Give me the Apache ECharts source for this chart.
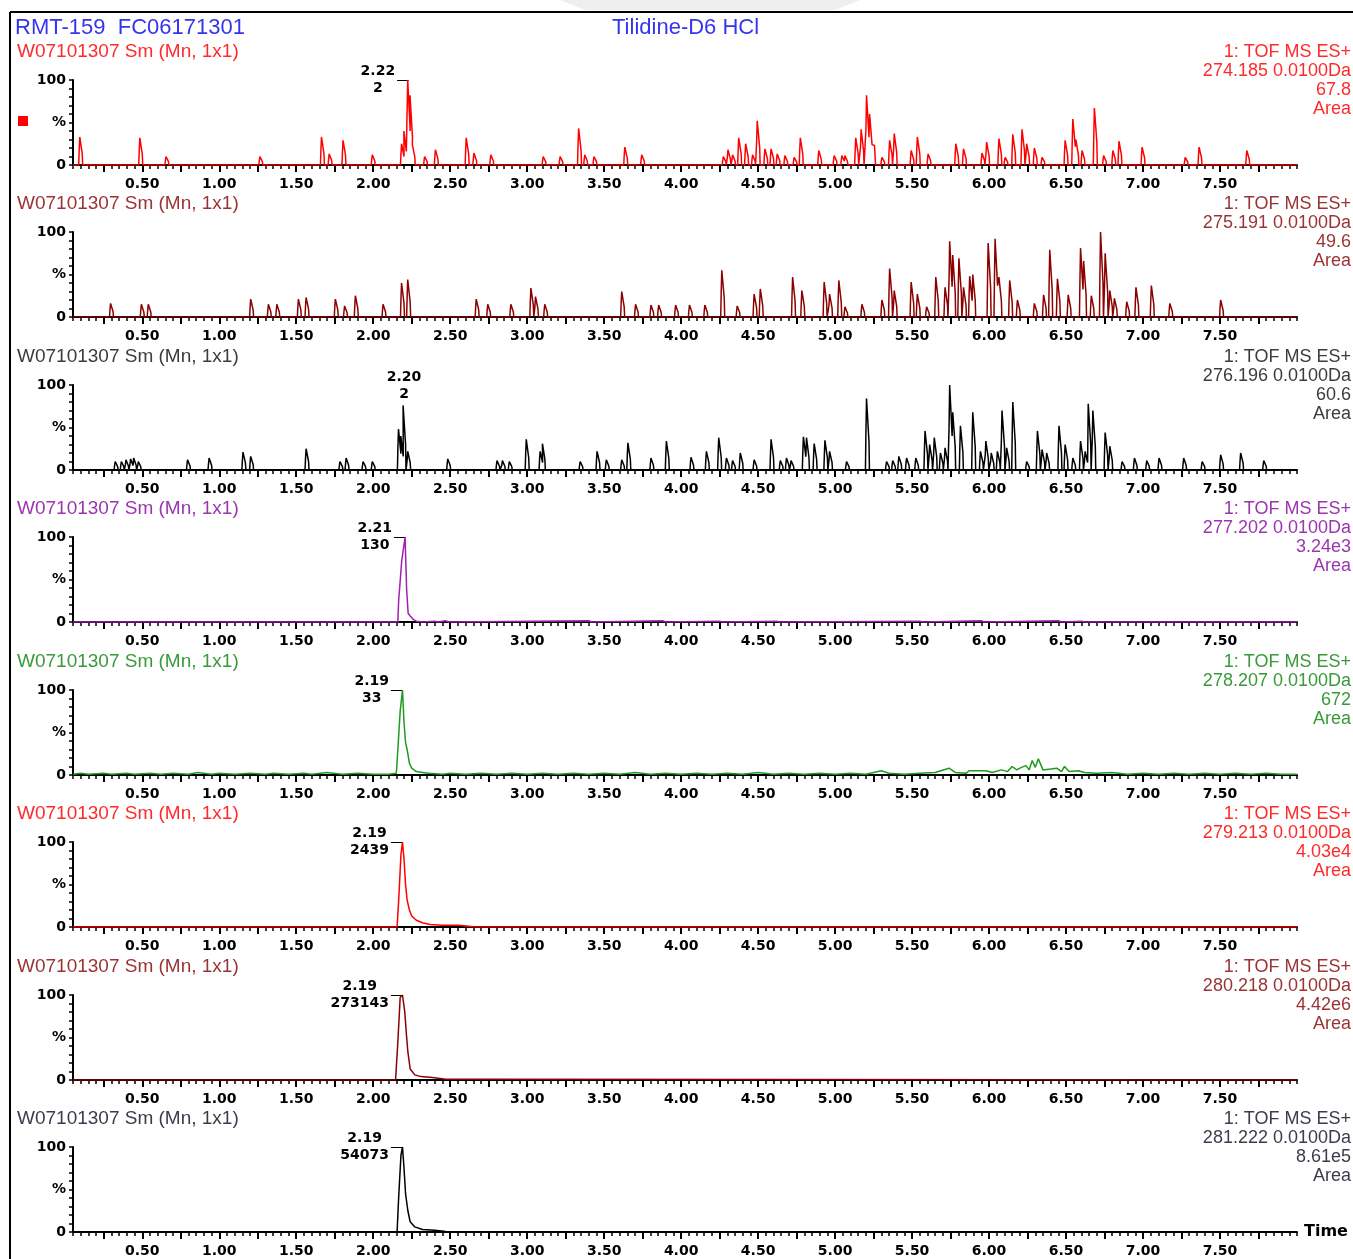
<!DOCTYPE html>
<html><head><meta charset="utf-8">
<script src="https://cdn.jsdelivr.net/npm/echarts@6/dist/echarts.min.js"></script>
<style>html,body{margin:0;padding:0;background:#fff}#c{width:1353px;height:1259px}</style>
</head><body><div id="c"></div>
<script>
// ---------- DATA ----------
const X_MIN = 0.05, X_MAX = 8.0;
const xTickLabels = [0.5,1.0,1.5,2.0,2.5,3.0,3.5,4.0,4.5,5.0,5.5,6.0,6.5,7.0,7.5];
const headerLeft = 'RMT-159  FC06171301';
const headerCenter = 'Tilidine-D6 HCl';
const panelTitles = ['W07101307 Sm (Mn, 1x1)','W07101307 Sm (Mn, 1x1)','W07101307 Sm (Mn, 1x1)','W07101307 Sm (Mn, 1x1)','W07101307 Sm (Mn, 1x1)','W07101307 Sm (Mn, 1x1)','W07101307 Sm (Mn, 1x1)','W07101307 Sm (Mn, 1x1)'];
const scanLines = ['1: TOF MS ES+','1: TOF MS ES+','1: TOF MS ES+','1: TOF MS ES+','1: TOF MS ES+','1: TOF MS ES+','1: TOF MS ES+','1: TOF MS ES+'];
const massLines = ['274.185 0.0100Da','275.191 0.0100Da','276.196 0.0100Da','277.202 0.0100Da','278.207 0.0100Da','279.213 0.0100Da','280.218 0.0100Da','281.222 0.0100Da'];
const maxIntensity = ['67.8','49.6','60.6','3.24e3','672','4.03e4','4.42e6','8.61e5'];
const areaLabels = ['Area','Area','Area','Area','Area','Area','Area','Area'];
// peak annotations
const annotPanels = [0,2,3,4,5,6,7];
const annotTimes  = [2.23,2.20,2.21,2.19,2.19,2.19,2.19];
const annotValues = [100,76,100,100,100,100,100];
const annotRT     = ['2.22','2.20','2.21','2.19','2.19','2.19','2.19'];
const annotArea   = ['2','2','130','33','2439','273143','54073'];

// noisy traces as peak lists [time, % height]
const peaks1 = [[0.10,33],[0.49,32],[0.66,10],[1.27,10],[1.67,33],[1.72,13],[1.81,29],[2.00,12],[2.19,25],[2.205,40],[2.23,100],[2.245,82],[2.26,24],[2.34,10],[2.41,18],[2.61,32],[2.66,14],[2.77,12],[3.11,10],[3.22,10],[3.34,43],[3.38,12],[3.44,10],[3.64,21],[3.75,12],[4.28,10],[4.31,18],[4.34,12],[4.38,32],[4.425,25],[4.47,12],[4.50,52],[4.55,19],[4.59,19],[4.63,13],[4.68,11],[4.74,9],[4.78,32],[4.90,17],[5.00,11],[5.05,11],[5.07,11],[5.14,32],[5.175,42],[5.21,82],[5.23,60],[5.25,23],[5.31,9],[5.36,29],[5.39,37],[5.50,17],[5.54,33],[5.61,13],[5.79,25],[5.84,19],[5.96,14],[5.99,27],[6.07,31],[6.11,9],[6.16,36],[6.22,42],[6.25,25],[6.30,20],[6.35,9],[6.50,29],[6.55,54],[6.57,30],[6.61,17],[6.69,67],[6.75,11],[6.81,17],[6.85,28],[7.00,21],[7.28,9],[7.37,21],[7.68,17]];
const peaks2 = [[0.30,16],[0.50,15],[0.545,15],[1.21,21],[1.325,15],[1.38,15],[1.52,21],[1.57,23],[1.76,21],[1.82,13],[1.89,25],[2.07,15],[2.19,40],[2.23,44],[2.675,21],[2.75,15],[2.90,15],[3.03,34],[3.06,24],[3.12,15],[3.62,30],[3.71,15],[3.81,14],[3.86,14],[3.97,14],[4.06,14],[4.16,14],[4.27,55],[4.37,13],[4.48,27],[4.52,33],[4.73,47],[4.79,31],[4.935,41],[4.97,27],[5.03,43],[5.07,12],[5.18,15],[5.31,20],[5.36,57],[5.39,31],[5.50,41],[5.54,27],[5.60,12],[5.66,47],[5.72,35],[5.75,89],[5.77,73],[5.81,69],[5.84,35],[5.88,48],[5.90,50],[6.00,87],[6.045,92],[6.07,47],[6.14,43],[6.19,20],[6.30,16],[6.36,26],[6.40,79],[6.45,45],[6.52,26],[6.60,81],[6.62,66],[6.67,25],[6.73,100],[6.76,75],[6.79,31],[6.82,22],[6.90,18],[6.96,35],[7.06,37],[7.18,16],[7.51,20]];
const peaks3 = [[0.33,10],[0.37,10],[0.40,12],[0.43,13],[0.45,14],[0.48,10],[0.80,12],[0.94,14],[1.16,21],[1.21,16],[1.57,25],[1.79,10],[1.83,14],[1.94,10],[2.00,10],[2.17,48],[2.185,40],[2.20,76],[2.23,22],[2.49,13],[2.81,11],[2.845,11],[2.89,10],[3.00,36],[3.09,22],[3.105,31],[3.35,10],[3.46,22],[3.52,12],[3.62,12],[3.66,32],[3.81,14],[3.91,34],[4.07,15],[4.17,22],[4.25,38],[4.30,14],[4.34,11],[4.39,20],[4.48,12],[4.59,36],[4.65,11],[4.69,14],[4.72,11],[4.80,39],[4.82,38],[4.87,31],[4.94,35],[4.97,22],[5.08,10],[5.21,84],[5.34,10],[5.38,11],[5.42,16],[5.47,14],[5.53,14],[5.59,46],[5.62,30],[5.65,38],[5.69,20],[5.72,26],[5.75,100],[5.77,68],[5.82,52],[5.90,68],[5.95,22],[5.985,34],[6.02,20],[6.06,22],[6.09,70],[6.12,26],[6.16,80],[6.25,10],[6.32,46],[6.35,24],[6.38,20],[6.46,52],[6.50,30],[6.55,14],[6.60,34],[6.63,22],[6.65,78],[6.68,70],[6.76,44],[6.79,28],[6.87,10],[6.95,14],[7.03,11],[7.11,14],[7.27,14],[7.39,10],[7.51,18],[7.64,20],[7.79,11]];

// single-peak traces [time, % height]
const trace4 = [[0.05,0],[2.16,0],[2.165,25],[2.175,48],[2.185,72],[2.195,74],[2.207,100],[2.217,38],[2.227,10],[2.24,7],[2.26,3],[2.28,1],[2.32,0],[2.40,1],[2.42,0],[2.47,1.5],[2.49,0],[3.40,1.5],[3.42,0],[3.88,1.5],[3.90,0],[4.25,1],[4.27,0],[4.62,1],[4.64,0],[5.55,1],[5.57,0],[5.95,1.5],[5.97,0],[6.45,1.5],[6.47,0],[6.60,1],[6.62,0],[8.0,0]];
const trace5 = [[0.05,1],[0.10,2],[0.15,1],[0.25,2],[0.30,1],[0.40,2],[0.45,1],[0.55,2],[0.62,1],[0.70,2],[0.80,1],[0.86,3],[0.95,1],[1.00,2],[1.10,1],[1.20,2],[1.30,1],[1.35,2],[1.45,1],[1.55,2],[1.60,1],[1.70,3],[1.80,1],[1.90,2],[2.00,1],[2.10,1],[2.15,2],[2.16,30],[2.175,75],[2.19,100],[2.20,62],[2.21,38],[2.22,30],[2.235,14],[2.25,8],[2.28,4],[2.32,3],[2.36,2],[2.45,1],[2.50,2],[2.60,1],[2.70,2],[2.80,1],[2.90,2],[3.00,1],[3.10,2],[3.20,1],[3.30,2],[3.40,1],[3.50,2],[3.60,1],[3.70,3],[3.80,1],[3.90,2],[4.00,1],[4.10,2],[4.20,1],[4.30,2],[4.40,1],[4.50,3],[4.60,1],[4.70,2],[4.80,1],[4.90,2],[5.00,1],[5.10,2],[5.20,1],[5.30,5],[5.35,2],[5.45,1],[5.55,2],[5.65,3],[5.74,8],[5.78,3],[5.85,2],[5.87,5],[5.98,5],[6.02,3],[6.08,6],[6.12,4],[6.15,10],[6.18,6],[6.21,9],[6.24,11],[6.26,6],[6.28,17],[6.30,9],[6.32,19],[6.35,6],[6.40,7],[6.44,8],[6.47,4],[6.49,10],[6.52,4],[6.58,5],[6.62,3],[6.70,2],[6.80,3],[6.90,1],[7.00,2],[7.10,1],[7.20,2],[7.30,1],[7.40,2],[7.50,1],[7.60,2],[7.70,1],[7.80,2],[7.90,1],[8.00,1]];
const trace6 = [[0.05,0],[2.155,0],[2.165,30],[2.18,85],[2.19,100],[2.20,80],[2.21,50],[2.22,32],[2.235,20],[2.25,13],[2.28,8],[2.32,5],[2.37,3],[2.45,2],[2.55,2],[2.62,1],[2.66,0],[8.0,0]];
const trace7 = [[0.05,0],[2.145,0],[2.16,45],[2.175,97],[2.19,100],[2.205,80],[2.215,55],[2.225,33],[2.24,13],[2.27,6],[2.31,4],[2.385,3],[2.47,1],[2.71,1],[2.72,0],[8.0,0]];
const trace8 = [[0.05,0],[2.155,0],[2.165,40],[2.18,90],[2.19,100],[2.20,75],[2.21,45],[2.225,25],[2.24,12],[2.27,6],[2.32,3],[2.40,2],[2.46,1],[2.48,0],[8.0,0]];

// ---------- STYLE ----------
const lineColors  = ['#ff0000','#8b0000','#000000','#a020b0','#1f9a1f','#ff0000','#8b0000','#000000'];
const titleColors = ['#ff2a2a','#9a3434','#3c3c3c','#9b35b0','#3a9a3a','#ff2a2a','#9a3434','#3c3c4c'];
const TOPS = [80,232,385,537,690,842,995,1147];
const GRID_LEFT = 73, GRID_W = 1224, GRID_H = 85;

// turn a peak list into a boxy chromatogram trace (rendering shape only)
function spikes(peaks){
  const p = peaks.slice().sort((a,b)=>a[0]-b[0]);
  const out = [[X_MIN,0]];
  let lastEnd = -1;
  p.forEach(([t,h])=>{
    const l = t-0.013, r = t+0.013;
    if (l > lastEnd) out.push([l,0],[l+0.003,h*0.5]); else out.pop();
    out.push([t-0.006,h],[t+0.006,h],[r-0.003,h*0.4],[r,0]);
    lastEnd = r;
  });
  out.push([X_MAX,0]);
  return out;
}
const traces = [spikes(peaks1), spikes(peaks2), spikes(peaks3), trace4, trace5, trace6, trace7, trace8];

const majorTicks = [], minorTicks = [];
for (let k = 1; k * 0.25 < X_MAX; k++) majorTicks.push(+(k*0.25).toFixed(2));
for (let k = 1; k * 0.05 <= X_MAX + 1e-9; k++) minorTicks.push(+(k*0.05).toFixed(2));

const numFont = 'DejaVu Sans';
const grids = [], xAxes = [], yAxes = [], series = [], graphics = [];
TOPS.forEach((top,i)=>{
  grids.push({left:GRID_LEFT, top:top, width:GRID_W, height:GRID_H});
  xAxes.push({gridIndex:i, type:'value', min:X_MIN, max:X_MAX, position:'bottom',
    axisLine:{show:true, onZero:false, lineStyle:{color:'#000', width:2}},
    axisTick:{show:true, customValues:majorTicks, length:7, lineStyle:{color:'#000', width:2}},
    axisLabel:{show:true, customValues:xTickLabels, formatter:v=>v.toFixed(2), color:'#000', fontFamily:numFont, fontWeight:'bold', fontSize:14, margin:12},
    splitLine:{show:false}});
  xAxes.push({gridIndex:i, type:'value', min:X_MIN, max:X_MAX, position:'bottom',
    axisLine:{show:false, onZero:false},
    axisTick:{show:true, customValues:minorTicks, length:4, lineStyle:{color:'#000', width:1.5}},
    axisLabel:{show:false}, splitLine:{show:false}});
  yAxes.push({gridIndex:i, type:'value', min:0, max:100, interval:10,
    axisLine:{show:true, lineStyle:{color:'#000', width:2}},
    axisTick:{show:true, length:4, lineStyle:{color:'#000', width:1.5}},
    axisLabel:{show:true, margin:7, color:'#000', fontFamily:numFont, fontWeight:'bold', fontSize:14,
      formatter:v=> v===100?'100':(v===50?'%':(v===0?'0':''))},
    splitLine:{show:false}});
  const s = {type:'line', xAxisIndex:2*i, yAxisIndex:i, data:traces[i], showSymbol:false, symbol:'none',
    lineStyle:{color:lineColors[i], width:1.5}, z:5, animation:false};
  const ai = annotPanels.indexOf(i);
  if (ai >= 0){
    const above = (i === 2);
    s.markPoint = {symbol:'circle', symbolSize:1, itemStyle:{color:'rgba(0,0,0,0)'}, animation:false,
      label:{show:true, position: above ? 'top' : 'left', distance: above ? 2 : 13,
        formatter:'{a|' + annotRT[ai] + '}\n{a|' + annotArea[ai] + '}',
        rich:{a:{fontFamily:numFont, fontWeight:'bold', fontSize:14, color:'#000', lineHeight:17, align:'center'}}},
      data:[{coord:[annotTimes[ai], annotValues[ai]]}]};
    if (!above){
      s.markLine = {silent:true, symbol:['none','none'], animation:false, label:{show:false},
        lineStyle:{color:'#000', width:1, type:'solid'},
        data:[[{coord:[annotTimes[ai]-0.075, 100]},{coord:[annotTimes[ai], 100]}]]};
    }
  }
  series.push(s);
  graphics.push({type:'text', left:17, top:top-27-11, style:{text:panelTitles[i], fill:titleColors[i], font:'19px "Liberation Sans"'}});
  [scanLines[i], massLines[i], maxIntensity[i], areaLabels[i]].forEach((t,k)=>{
    graphics.push({type:'text', right:2, top:top-27-10+k*19, style:{text:t, fill:titleColors[i], font:'18px "Liberation Sans"', textAlign:'right'}});
  });
});

graphics.push({type:'polygon', shape:{points:[[560,0],[860,0],[835,10],[585,10]]}, style:{fill:'#efefef'}, z:-1});
graphics.push({type:'line', shape:{x1:10, y1:12, x2:1353, y2:12}, style:{stroke:'#000', lineWidth:2}});
graphics.push({type:'line', shape:{x1:10, y1:12, x2:10, y2:1259}, style:{stroke:'#000', lineWidth:2}});
graphics.push({type:'text', left:15, top:17, style:{text:headerLeft, fill:'#3535f0', font:'22px "Liberation Sans"'}});
graphics.push({type:'text', left:612, top:17, style:{text:headerCenter, fill:'#3535f0', font:'22px "Liberation Sans"'}});
graphics.push({type:'rect', shape:{x:18, y:116, width:10, height:10}, style:{fill:'#ff0000'}});
graphics.push({type:'text', left:1304, top:1224, style:{text:'Time', fill:'#000', font:'bold 16px "DejaVu Sans"'}});

const chart = echarts.init(document.getElementById('c'), null, {renderer:'canvas'});
chart.setOption({animation:false, backgroundColor:'#fff', grid:grids, xAxis:xAxes, yAxis:yAxes, series:series, graphic:graphics});
</script></body></html>
